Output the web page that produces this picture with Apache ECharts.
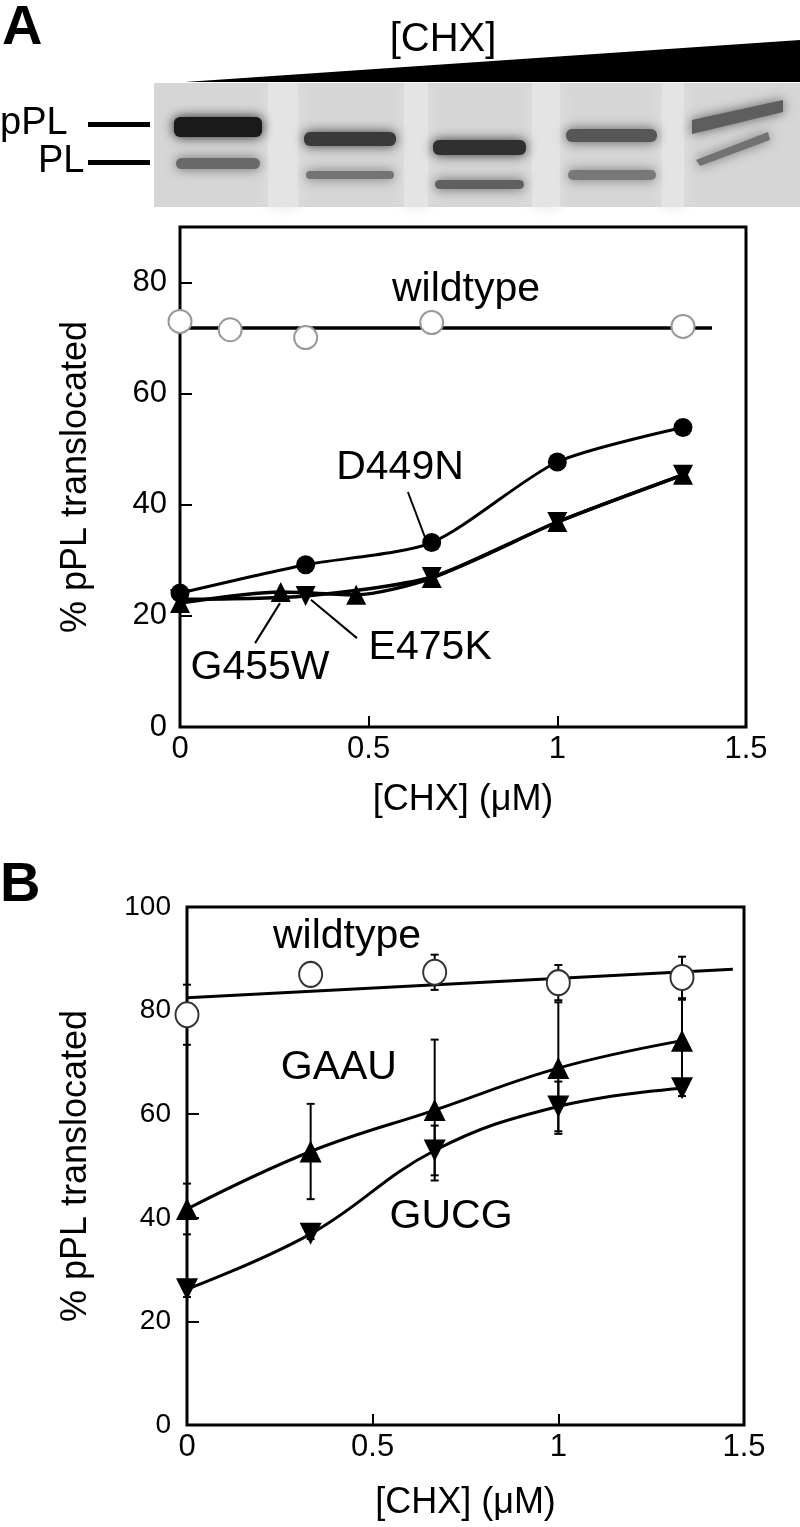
<!DOCTYPE html>
<html>
<head>
<meta charset="utf-8">
<script src="https://cdn.jsdelivr.net/npm/echarts@6/dist/echarts.min.js"></script>
<style>
  html, body { margin: 0; padding: 0; background: #fff; }
  #chart { width: 800px; height: 1527px; }
</style>
</head>
<body>
<div id="chart"></div>
<script>
// ---- panel A data ----
const xWildA = [0, 0.133, 0.333, 0.667, 1.333];
const wildA = [73.0, 71.5, 70.1, 72.8, 72.1];
const wildFitA = [[0, 71.8], [1.41, 71.8]];

const xD449N = [0, 0.333, 0.667, 1.0, 1.333];
const d449n = [24.1, 29.2, 33.2, 47.7, 53.9];

const xG455W = [0, 0.267, 0.467, 0.667, 1.0, 1.333];
const g455w = [22.3, 24.3, 23.8, 26.8, 36.9, 45.4];

const xE475K = [0, 0.333, 0.667, 1.0, 1.333];
const e475k = [23.0, 23.6, 27.0, 36.9, 45.4];

// ---- panel B data ----
const xB = [0, 0.333, 0.667, 1.0, 1.333];
const wildB = [79.2, 87.0, 87.4, 85.4, 86.4];
const wildErrB = [5.8, 1.2, 3.4, 3.4, 4.0];
const wildFitB = [[0, 82.5], [1.47, 88.0]];
const gaau = [41.7, 52.8, 60.8, 68.9, 74.2];
const gaauErr = [4.9, 9.2, 13.6, 12.7, 7.9];
const gucg = [26.2, 36.9, 53.0, 61.5, 65.0];
const gucgErr = [1.5, 1.0, 4.8, 4.8, 1.5];

const yTicksA = [0, 20, 40, 60, 80];
const yTicksB = [0, 20, 40, 60, 80, 100];

// annotation text and leader lines, in data units
const labelsA = [
  { name: 'wildtype', value: [0.758, 78.7] },
  { name: 'D449N', value: [0.583, 46.7] },
  { name: 'G455W', value: [0.212, 10.6] },
  { name: 'E475K', value: [0.663, 14.2] }
];
const leadersA = [
  [[0.604, 42.3], [0.649, 34.2]],
  [[0.199, 15.1], [0.265, 22.3]],
  [[0.469, 16.0], [0.347, 22.9]]
];
const labelsB = [
  { name: 'wildtype', value: [0.431, 94.2] },
  { name: 'GAAU', value: [0.409, 68.9] },
  { name: 'GUCG', value: [0.711, 40.2] }
];

const FONT = '"Liberation Sans", Arial, Helvetica, sans-serif';

const pairs = (xs, ys) => xs.map((x, i) => [x, ys[i]]);
const triples = (xs, ys, es) => xs.map((x, i) => [x, ys[i], es[i]]);

function xAxisCfg(gridIndex, gap) {
  return {
    type: 'value', gridIndex, min: 0, max: 1.5, interval: 0.5,
    name: '[CHX] (μM)', nameLocation: 'middle', nameGap: gap,
    nameTextStyle: { fontFamily: FONT, fontSize: 36, color: '#000' },
    axisLine: { show: false },
    axisTick: { inside: true, length: 11, lineStyle: { color: '#000', width: 2 } },
    axisLabel: { fontFamily: FONT, fontSize: 31, color: '#000', margin: 7 },
    splitLine: { show: false }
  };
}

function yAxisCfg(gridIndex, max, ticks, gap, size, margin) {
  return {
    type: 'value', gridIndex, min: 0, max, interval: 20,
    name: '% pPL translocated', nameLocation: 'middle', nameGap: gap,
    nameTextStyle: { fontFamily: FONT, fontSize: 36, color: '#000' },
    axisLine: { show: false },
    axisTick: { inside: true, length: 12, customValues: ticks, lineStyle: { color: '#000', width: 2 } },
    axisLabel: { fontFamily: FONT, fontSize: size, color: '#000', margin, customValues: ticks },
    splitLine: { show: false }
  };
}

function errorSeries(idx, data, z) {
  return {
    type: 'custom', xAxisIndex: idx, yAxisIndex: idx, z, silent: true,
    data,
    renderItem: (params, api) => {
      const x = api.value(0), y = api.value(1), e = api.value(2);
      const top = api.coord([x, y + e]);
      const bot = api.coord([x, y - e]);
      const st = { stroke: '#000', lineWidth: 2 };
      return {
        type: 'group',
        children: [
          { type: 'line', shape: { x1: top[0], y1: top[1], x2: bot[0], y2: bot[1] }, style: st },
          { type: 'line', shape: { x1: top[0] - 4, y1: top[1], x2: top[0] + 4, y2: top[1] }, style: st },
          { type: 'line', shape: { x1: bot[0] - 4, y1: bot[1], x2: bot[0] + 4, y2: bot[1] }, style: st }
        ]
      };
    }
  };
}

function lineSeries(idx, data, opts) {
  return Object.assign({
    type: 'line', xAxisIndex: idx, yAxisIndex: idx, data,
    symbol: 'none', silent: true, smooth: false,
    lineStyle: { color: '#000', width: 3 }
  }, opts);
}

function markerSeries(idx, data, symbol, size, style, rotate, z) {
  return {
    type: 'scatter', xAxisIndex: idx, yAxisIndex: idx, data,
    symbol, symbolSize: size, symbolRotate: rotate || 0, z: z || 5,
    itemStyle: Object.assign({ opacity: 1 }, style), silent: true
  };
}

function labelSeries(idx, data) {
  return {
    type: 'scatter', xAxisIndex: idx, yAxisIndex: idx, data,
    symbolSize: 0, silent: true, z: 6,
    itemStyle: { opacity: 1 },
    label: {
      show: true, position: 'inside', formatter: '{b}',
      fontFamily: FONT, fontSize: 41, color: '#000'
    }
  };
}

// gel photograph imitation (decorative)
function gelGraphics() {
  const g = [];
  g.push({ type: 'rect', shape: { x: 154, y: 83, width: 646, height: 124 }, style: { fill: '#d6d6d6' } });
  [[268, 30], [404, 24], [532, 28], [662, 22]].forEach(([x, w]) => {
    g.push({ type: 'rect', shape: { x, y: 83, width: w, height: 124 },
      style: { fill: '#e4e4e4', shadowBlur: 14, shadowColor: '#e4e4e4' } });
  });
  const bands = [
    [174, 117, 88, 20, '#1a1a1a'], [176, 158, 84, 11, '#6a6a6a'],
    [304, 132, 92, 14, '#3a3a3a'], [306, 171, 88, 8, '#747474'],
    [433, 140, 93, 15, '#303030'], [435, 180, 89, 9, '#606060'],
    [566, 129, 91, 13, '#575757'], [568, 170, 88, 10, '#787878']
  ];
  bands.forEach(([x, y, w, h, c]) => {
    g.push({ type: 'rect', shape: { x, y, width: w, height: h, r: 6 },
      style: { fill: c, shadowBlur: 12, shadowColor: c } });
  });
  g.push({ type: 'polygon', shape: { points: [[692, 120], [783, 100], [783, 112], [692, 134]] },
    style: { fill: '#5e5e5e', shadowBlur: 12, shadowColor: '#5e5e5e' } });
  g.push({ type: 'polygon', shape: { points: [[696, 160], [768, 132], [770, 140], [700, 166]] },
    style: { fill: '#727272', shadowBlur: 12, shadowColor: '#727272' } });
  // concentration wedge
  g.push({ type: 'polygon', shape: { points: [[185, 82], [800, 40], [800, 82]] }, style: { fill: '#000' } });
  // band markers
  g.push({ type: 'rect', shape: { x: 88, y: 122, width: 62, height: 5 }, style: { fill: '#000' } });
  g.push({ type: 'rect', shape: { x: 88, y: 160, width: 62, height: 5 }, style: { fill: '#000' } });
  const txt = (text, x, y, size, weight, align) => ({
    type: 'text', x, y,
    style: { text, fontFamily: FONT, fontSize: size, fontWeight: weight || 'normal',
      fill: '#000', align: align || 'left', verticalAlign: 'middle' }
  });
  g.push(txt('pPL', 0, 124, 38));
  g.push(txt('PL', 38, 162, 38));
  g.push(txt('[CHX]', 443, 40, 40, 'normal', 'center'));
  g.push(txt('A', 2, 29, 56, 'bold'));
  g.push(txt('B', 0, 886, 56, 'bold'));
  return g;
}

const chart = echarts.init(document.getElementById('chart'), null, { renderer: 'canvas' });

const series = [
  // panel A
  lineSeries(0, wildFitA, { lineStyle: { color: '#000', width: 3.5 }, z: 2 }),
  lineSeries(0, pairs(xD449N, d449n), { smooth: 0.25, lineStyle: { color: '#000', width: 3 }, z: 2 }),
  lineSeries(0, pairs(xG455W, g455w), { smooth: 0.25, lineStyle: { color: '#000', width: 3.5 }, z: 2 }),
  lineSeries(0, pairs(xE475K, e475k), { smooth: 0.25, lineStyle: { color: '#000', width: 3.5 }, z: 2 }),
  markerSeries(0, pairs(xWildA, wildA), 'circle', 23, { color: '#fff', borderColor: '#999', borderWidth: 2 }),
  markerSeries(0, pairs(xD449N, d449n), 'circle', 19, { color: '#000' }),
  markerSeries(0, pairs(xG455W, g455w), 'triangle', 20, { color: '#000' }),
  markerSeries(0, pairs(xE475K, e475k), 'triangle', 20, { color: '#000' }, 180),
  labelSeries(0, labelsA),
  ...leadersA.map(l => lineSeries(0, l, { lineStyle: { color: '#000', width: 2 }, z: 3 })),
  // panel B
  errorSeries(1, triples(xB, wildB, wildErrB), 1),
  errorSeries(1, triples(xB, gaau, gaauErr), 1),
  errorSeries(1, triples(xB, gucg, gucgErr), 1),
  lineSeries(1, wildFitB, { lineStyle: { color: '#000', width: 3 }, z: 2 }),
  lineSeries(1, pairs(xB, gaau), { smooth: 0.4, lineStyle: { color: '#000', width: 3 }, z: 2 }),
  lineSeries(1, pairs(xB, gucg), { smooth: 0.4, lineStyle: { color: '#000', width: 3 }, z: 2 }),
  markerSeries(1, pairs(xB, wildB), 'circle', [23, 25], { color: '#fff', borderColor: '#333', borderWidth: 2 }),
  markerSeries(1, pairs(xB, gaau), 'triangle', 22, { color: '#000' }),
  markerSeries(1, pairs(xB, gucg), 'triangle', 22, { color: '#000' }, 180),
  labelSeries(1, labelsB)
];

chart.setOption({
  animation: false,
  backgroundColor: '#fff',
  grid: [
    { left: 180, top: 227, width: 566, height: 500, show: true, borderColor: '#000', borderWidth: 3, backgroundColor: 'transparent' },
    { left: 187, top: 907, width: 557, height: 518, show: true, borderColor: '#000', borderWidth: 3, backgroundColor: 'transparent' }
  ],
  xAxis: [xAxisCfg(0, 55), xAxisCfg(1, 60)],
  yAxis: [yAxisCfg(0, 90, yTicksA, 86, 31, 13), yAxisCfg(1, 100, yTicksB, 93, 28, 16)],
  graphic: gelGraphics(),
  series
});
</script>
</body>
</html>
